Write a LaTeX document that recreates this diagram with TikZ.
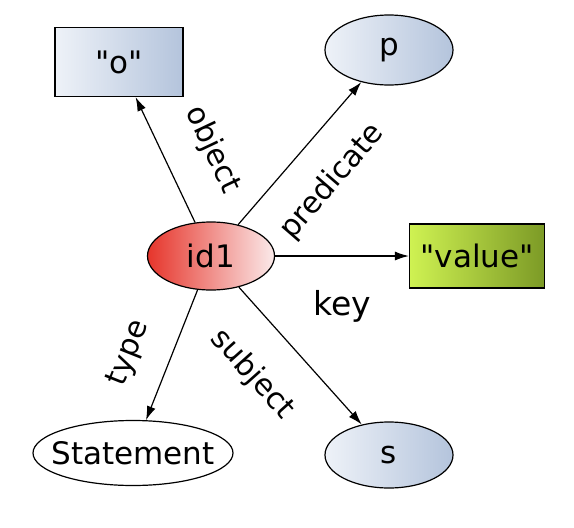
\documentclass[tikz,border=0pt]{standalone}
\usepackage{fontspec}
\setmainfont{DejaVu Sans}
\usepackage{tikz}
\usetikzlibrary{shapes.geometric, arrows.meta}

\definecolor{paleblue}{HTML}{EEF2F8}
\definecolor{greyblue}{HTML}{B4C4DC}
\definecolor{idred}{HTML}{E6352B}
\definecolor{idpink}{HTML}{FBEAEA}
\definecolor{limelight}{HTML}{CFF252}
\definecolor{olivedark}{HTML}{7C9A26}

\tikzset{
  ellnode/.style={ellipse, draw, line width=1.2pt, inner sep=0pt, font=\fontsize{31}{37}\selectfont},
  boxnode/.style={rectangle, draw, line width=1.2pt, inner sep=0pt, font=\fontsize{31}{37}\selectfont},
  bluefill/.style={left color=paleblue, right color=greyblue},
  edgelabel/.style={font=\fontsize{30}{36}\selectfont, inner sep=2pt, sloped}
}

\begin{document}
\begin{tikzpicture}[x=1pt,y=-1pt,>={Latex[length=14pt,width=9pt]}]
\useasboundingbox (0,0) rectangle (574,528);

% Nodes
\node [boxnode, bluefill, minimum width=128pt, minimum height=69pt] (o) at (119,62) {\textquotedbl o\textquotedbl};
\node [ellnode, bluefill, minimum width=128pt, minimum height=70pt] (p) at (389,50) {p};
\node [ellnode, left color=idred, right color=idpink, minimum width=127pt, minimum height=68pt] (id1) at (211,256) {id1};
\node [boxnode, left color=limelight, right color=olivedark, minimum width=135pt, minimum height=64pt] (value) at (477,256) {\textquotedbl value\textquotedbl};
\node [ellnode, fill=white, inner xsep=-11pt, minimum width=200pt, minimum height=65pt] (stmt) at (133,453) {Statement};
\node [ellnode, bluefill, minimum width=128pt, minimum height=66pt] (s) at (389,455) {s};

% Edges
\draw [->, line width=1.2pt] (id1) -- (o) node [edgelabel, pos=0.42, above=30pt] {object};
\draw [->, line width=1.2pt] (id1) -- (p) node [edgelabel, midway, below=26pt] {predicate};
\draw [->, line width=1.2pt] (id1) -- (value) node [edgelabel, midway, below=32pt, font=\fontsize{33}{40}\selectfont] {key};
\draw [->, line width=1.2pt] (id1) -- (stmt) node [edgelabel, pos=0.6, above=24pt] {type};
\draw [->, line width=1.2pt] (id1) -- (s) node [edgelabel, pos=0.4, below=31pt] {subject};
\end{tikzpicture}
\end{document}
